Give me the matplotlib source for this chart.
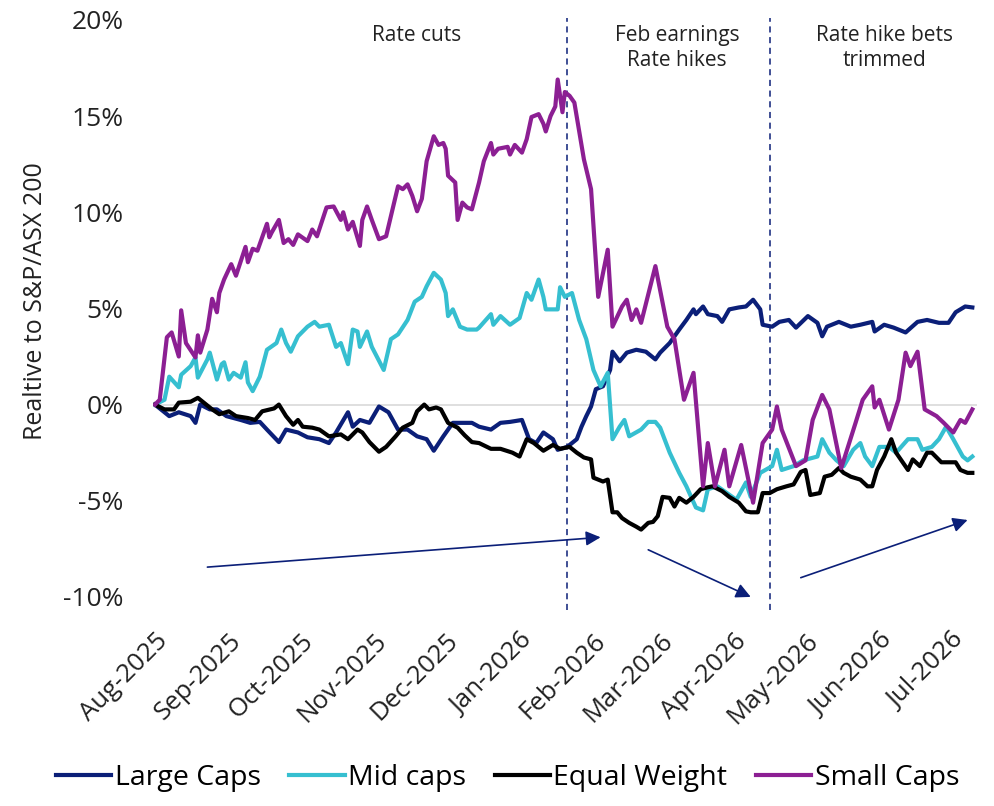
import matplotlib
matplotlib.use('Agg')
import matplotlib.pyplot as plt
import matplotlib.dates as mdates
from matplotlib.ticker import FuncFormatter
import numpy as np

plt.rcParams['font.family'] = ['Open Sans', 'DejaVu Sans']

# all x values are days since 1 Aug 2025, y values are % relative to S&P/ASX 200
start_date = np.datetime64('2025-08-01')

large_days = [0, 6, 10, 15, 17, 19, 23, 26, 30, 36, 40, 44, 47, 52, 55, 60, 64, 69, 73, 76,
              81, 83, 86, 90, 94, 98, 102, 106, 110, 114, 117, 121, 125, 128, 133, 136, 141, 145,
              149, 154, 157, 160, 163, 167, 169, 173, 174, 177, 179, 181, 183, 185, 188, 191, 192,
              195, 198, 202, 206, 210, 212, 216, 220, 223, 226, 227, 230, 232, 236, 238, 241, 245,
              248, 251, 254, 255, 259, 262, 266, 269, 274, 278, 280, 282, 287, 292, 296, 301, 302,
              306, 310, 315, 320, 324, 329, 333, 336, 340, 343]
large_caps = [0.0, -0.6, -0.4, -0.6, -0.95, 0.0, -0.25, -0.25, -0.6, -0.8, -0.95, -0.9, -1.3, -1.95,
              -1.3, -1.45, -1.7, -1.8, -2.0, -1.45, -0.4, -1.15, -0.8, -0.95, -0.1, -0.4, -1.3, -1.3,
              -1.65, -1.8, -2.4, -1.65, -0.95, -0.95, -0.95, -1.15, -1.3, -0.95, -0.9, -0.8, -1.8,
              -2.0, -1.45, -1.8, -2.35, -2.2, -2.1, -1.8, -1.15, -0.6, -0.1, 0.8, 0.95, 1.8, 2.75,
              2.25, 2.7, 2.85, 2.75, 2.35, 2.7, 3.2, 3.9, 4.4, 4.95, 4.7, 5.1, 4.7, 4.6, 4.3, 4.95,
              5.05, 5.1, 5.45, 4.95, 4.15, 4.05, 4.3, 4.4, 4.0, 4.6, 4.25, 3.55, 4.05, 4.3, 4.05,
              4.15, 4.3, 3.8, 4.15, 4.0, 3.75, 4.3, 4.4, 4.25, 4.25, 4.8, 5.1, 5.05]

mid_days = [0, 4, 6, 10, 11, 15, 17, 18, 22, 23, 26, 28, 29, 31, 33, 36, 38, 39, 41, 44, 47, 51,
            53, 55, 57, 60, 64, 67, 69, 73, 76, 78, 81, 83, 85, 86, 89, 91, 96, 99, 102, 106, 109,
            112, 114, 117, 120, 122, 123, 125, 128, 131, 135, 136, 141, 142, 145, 149, 153, 156,
            158, 161, 163, 164, 169, 170, 172, 175, 178, 181, 184, 187, 190, 192, 195, 197, 199,
            204, 207, 210, 212, 216, 220, 223, 227, 230, 232, 236, 240, 244, 248, 250, 254, 259,
            261, 263, 268, 272, 278, 280, 283, 286, 289, 293, 296, 298, 301, 304, 308, 311, 316,
            320, 322, 326, 329, 332, 335, 339, 341, 343]
mid_caps = [0.0, 0.25, 1.45, 0.9, 1.55, 2.0, 2.45, 1.4, 2.35, 2.7, 1.3, 2.1, 2.2, 1.3, 1.65, 1.4,
            2.2, 1.15, 0.7, 1.45, 2.85, 3.2, 3.9, 3.2, 2.75, 3.55, 4.05, 4.3, 4.05, 4.15, 3.0, 3.2,
            2.1, 3.9, 3.8, 3.0, 3.8, 3.0, 1.8, 3.4, 3.65, 4.4, 5.35, 5.6, 6.15, 6.85, 6.5, 5.8, 4.6,
            4.95, 4.05, 3.9, 3.9, 4.0, 4.7, 4.15, 4.6, 4.15, 4.5, 5.8, 5.45, 6.5, 5.6, 4.95, 4.95,
            6.1, 5.6, 5.8, 4.4, 3.4, 1.8, 0.95, 1.65, -1.8, -1.15, -0.8, -1.65, -1.3, -0.9, -0.9,
            -1.2, -2.5, -3.55, -4.25, -5.35, -5.5, -4.4, -4.25, -4.6, -4.95, -4.05, -4.8, -3.55,
            -3.2, -2.35, -3.4, -3.2, -2.9, -2.7, -1.8, -2.5, -2.9, -3.2, -2.35, -2.0, -2.7, -3.2,
            -2.2, -2.2, -2.5, -1.8, -1.8, -2.35, -2.2, -1.8, -1.15, -1.8, -2.7, -2.9, -2.7]

equal_days = [0, 4, 8, 10, 15, 18, 20, 24, 27, 31, 34, 39, 42, 45, 50, 52, 55, 58, 60, 62, 66, 69,
              73, 78, 81, 85, 87, 90, 94, 97, 101, 104, 108, 110, 113, 115, 118, 120, 123, 127, 130,
              133, 136, 141, 145, 150, 153, 156, 159, 163, 167, 170, 174, 177, 180, 183, 184, 186,
              188, 190, 192, 194, 196, 199, 202, 204, 207, 209, 211, 213, 216, 218, 220, 223, 226,
              229, 232, 234, 238, 241, 245, 248, 250, 253, 255, 258, 261, 265, 268, 271, 273, 275,
              279, 281, 284, 287, 289, 292, 296, 299, 301, 303, 306, 309, 311, 316, 318, 321, 324,
              326, 330, 334, 336, 338, 341, 343]
equal_weight = [0.0, -0.25, -0.25, 0.1, 0.15, 0.35, 0.15, -0.25, -0.5, -0.35, -0.6, -0.7, -0.8,
                -0.35, -0.2, 0.0, -0.6, -1.05, -0.8, -1.15, -1.2, -1.3, -1.65, -1.55, -1.8, -1.3,
                -1.45, -1.95, -2.45, -2.2, -1.65, -1.2, -0.95, -0.35, 0.0, -0.25, -0.15, -0.25,
                -0.95, -1.2, -1.6, -1.95, -2.0, -2.3, -2.3, -2.5, -2.7, -1.8, -2.0, -2.4, -2.1,
                -2.3, -2.2, -2.5, -2.75, -2.85, -3.8, -3.9, -4.0, -3.9, -5.6, -5.6, -5.9, -6.15,
                -6.35, -6.5, -6.15, -6.1, -5.8, -4.8, -4.85, -5.3, -4.85, -5.1, -4.8, -4.4, -4.3,
                -4.25, -4.5, -4.8, -5.1, -5.55, -5.6, -5.6, -4.6, -4.6, -4.4, -4.25, -4.15, -3.5,
                -3.4, -4.7, -4.6, -3.75, -3.65, -3.3, -3.55, -3.75, -3.9, -4.25, -4.25, -3.4, -2.7,
                -1.8, -2.5, -3.4, -2.85, -3.2, -2.5, -2.5, -3.0, -3.0, -3.0, -3.4, -3.55, -3.55]

small_days = [0, 2, 5, 7, 10, 11, 13, 17, 18, 19, 22, 24, 26, 27, 29, 32, 34, 36, 38, 39, 41, 43,
              47, 48, 49, 52, 54, 56, 58, 60, 64, 66, 68, 72, 75, 78, 79, 81, 83, 86, 87, 89, 91,
              94, 97, 102, 104, 106, 108, 110, 112, 114, 117, 119, 121, 122, 123, 126, 127, 129,
              131, 133, 136, 138, 141, 142, 144, 148, 149, 151, 154, 156, 158, 161, 163, 164, 166,
              168, 169, 171, 172, 174, 176, 180, 183, 186, 190, 192, 196, 198, 200, 202, 204, 210,
              215, 218, 222, 226, 230, 232, 235, 239, 241, 246, 251, 255, 259, 261, 263, 269, 273,
              276, 280, 283, 288, 294, 297, 301, 302, 304, 308, 312, 315, 317, 320, 323, 328, 331,
              335, 338, 340, 343]
small_caps = [0.0, 0.25, 3.5, 3.75, 2.5, 4.9, 3.2, 2.45, 3.6, 2.7, 3.9, 5.5, 4.8, 5.8, 6.5, 7.3,
              6.7, 7.45, 8.2, 7.4, 8.1, 8.0, 9.4, 8.7, 8.95, 9.6, 8.4, 8.6, 8.3, 8.85, 8.5, 9.1,
              8.75, 10.25, 10.3, 9.6, 10.0, 9.1, 9.5, 8.25, 9.6, 10.3, 9.6, 8.6, 8.75, 11.35, 11.2,
              11.45, 10.85, 10.05, 10.7, 12.65, 13.95, 13.5, 13.6, 13.3, 11.9, 11.55, 9.6, 10.5,
              10.25, 10.15, 11.55, 12.65, 13.6, 13.0, 13.3, 13.4, 13.0, 13.5, 13.1, 13.8, 14.95,
              15.1, 14.6, 14.2, 15.0, 15.5, 16.9, 15.2, 16.25, 16.05, 15.7, 12.75, 11.2, 5.6, 8.05,
              4.05, 5.1, 5.45, 4.4, 4.95, 4.25, 7.2, 4.05, 3.4, 0.25, 1.65, -4.25, -2.0, -4.25,
              -2.35, -4.25, -2.1, -5.1, -2.0, -1.3, -0.1, -1.3, -3.2, -2.9, -0.8, 0.5, -0.25, -3.3,
              -0.95, 0.25, 0.95, -0.15, 0.25, -1.3, 0.25, 2.7, 2.0, 2.75, -0.25, -0.6, -0.95,
              -1.45, -0.8, -0.95, -0.25]

series = [
    ('Large Caps', large_days, large_caps, '#0B1F78'),
    ('Mid caps', mid_days, mid_caps, '#36BFD0'),
    ('Equal Weight', equal_days, equal_weight, '#000000'),
    ('Small Caps', small_days, small_caps, '#8C1F93'),
]
navy = '#0B1F78'


def day(n):
    return start_date + np.timedelta64(int(n), 'D')


def to_dates(days):
    return start_date + np.array(days).astype('timedelta64[D]')


fig = plt.figure(figsize=(9.94, 8.06), dpi=100)
ax = fig.add_axes([0.1535, 0.2427, 0.8295, 0.735])

ax.axhline(0, color='#D9D9D9', lw=1.2, zorder=1)

for label, days, vals, color in series:
    ax.plot(to_dates(days), vals, color=color, lw=3, label=label, zorder=3)

# regime markers
for d in [173, 258]:
    ax.axvline(day(d), color=navy, lw=1.1, ls=(0, (4, 3)), zorder=2)

ax.text(day(110), 19.2, 'Rate cuts', ha='center', va='center', fontsize=15, color='#222222')
ax.text(day(219), 18.55, 'Feb earnings\nRate hikes', ha='center', va='center', fontsize=15,
        color='#222222', linespacing=1.25)
ax.text(day(306), 18.55, 'Rate hike bets\ntrimmed', ha='center', va='center', fontsize=15,
        color='#222222', linespacing=1.25)

arrow_kw = dict(arrowstyle='-|>', color=navy, lw=1.2, mutation_scale=22, shrinkA=0, shrinkB=0)
ax.annotate('', xy=(day(187), -6.9), xytext=(day(22), -8.45), arrowprops=arrow_kw)
ax.annotate('', xy=(day(250), -10.0), xytext=(day(207), -7.55), arrowprops=arrow_kw)
ax.annotate('', xy=(day(341), -6.0), xytext=(day(271), -9.0), arrowprops=arrow_kw)

ax.set_xlim(day(-1), day(345))
ax.set_ylim(-10.7, 20.1)
ax.set_yticks([-10, -5, 0, 5, 10, 15, 20])
ax.yaxis.set_major_formatter(FuncFormatter(lambda v, p: f'{v:.0f}%'))
ax.xaxis.set_major_locator(mdates.MonthLocator())
ax.xaxis.set_major_formatter(mdates.DateFormatter('%b-%Y'))

ax.tick_params(axis='y', length=0, pad=21, labelsize=19, labelcolor='#222222')
ax.tick_params(axis='x', length=0, pad=13, labelsize=18.5, labelcolor='#222222')
for lab in ax.get_xticklabels():
    lab.set_rotation(45)
    lab.set_ha('right')
    lab.set_rotation_mode('anchor')

for s in ax.spines.values():
    s.set_visible(False)

ax.set_ylabel('Realtive to S&P/ASX 200', fontsize=18, color='#222222')
ax.yaxis.set_label_coords(-0.127, 0.522)

fig.legend(loc='center', bbox_to_anchor=(0.5106, 0.035), ncol=4, frameon=False, fontsize=20.5,
           handlelength=1.95, handletextpad=0.12, columnspacing=1.0)

plt.savefig('out.png', dpi=100)
